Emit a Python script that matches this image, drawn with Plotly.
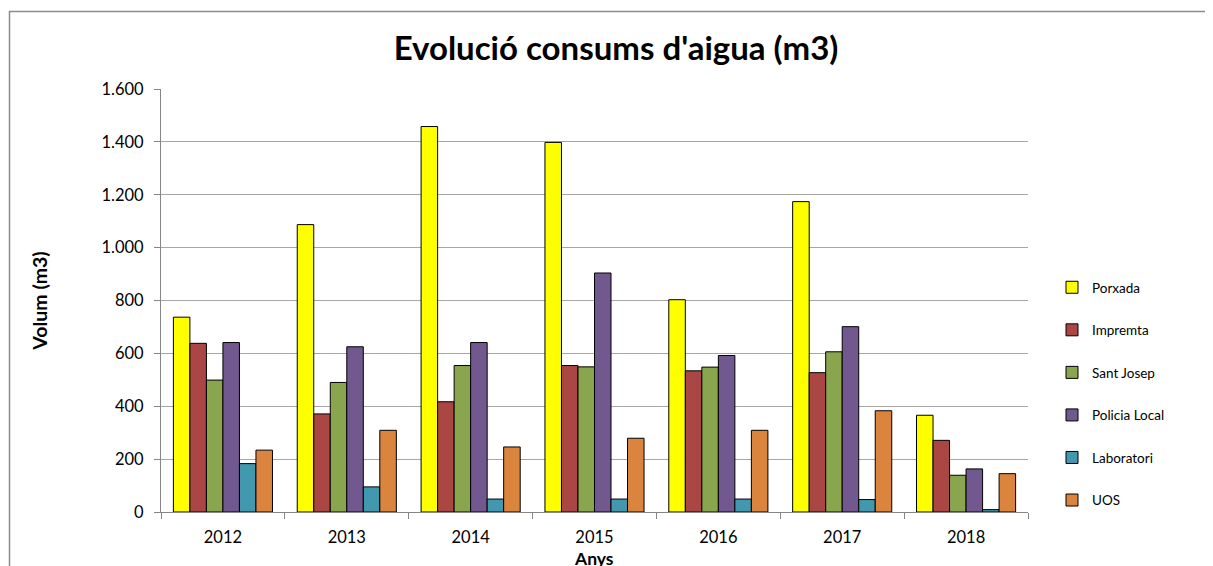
import plotly.graph_objects as go

years = ["2012", "2013", "2014", "2015", "2016", "2017", "2018"]
porxada = [737, 1087, 1458, 1398, 803, 1174, 366]
impremta = [638, 371, 417, 554, 534, 527, 271]
sant_josep = [499, 490, 554, 549, 548, 606, 139]
policia_local = [641, 625, 641, 904, 592, 701, 163]
laboratori = [183, 95, 49, 49, 49, 47, 9]
uos = [234, 309, 246, 279, 309, 383, 145]

series = [
    ("Porxada", porxada, "#FFFF00"),
    ("Impremta", impremta, "#AA4643"),
    ("Sant Josep", sant_josep, "#89A54E"),
    ("Policia Local", policia_local, "#71588F"),
    ("Laboratori", laboratori, "#4198AF"),
    ("UOS", uos, "#DB843D"),
]

FONT = "Lato"

fig = go.Figure()
for i, (name, vals, col) in enumerate(series):
    fig.add_trace(go.Bar(
        x=years, y=vals, name=name, legendgroup=f"g{i}",
        marker=dict(color=col, line=dict(color="#000000", width=1)),
    ))

# page has an 8px body margin: screen coords = figure coords + 8
OFF = 8
W, H = 1213 - OFF, 566 - OFF
L, T = 161 - OFF, 89 - OFF
R = W - (1028 - OFF)
B = H - (512 - OFF)
pw, ph = W - L - R, H - T - B

def px_x(sx):
    return (sx - OFF - L) / pw

def px_y(sy):
    return (H - B - (sy - OFF)) / ph

fig.update_layout(
    width=W, height=H,
    margin=dict(l=L, r=R, t=T, b=B, autoexpand=False),
    paper_bgcolor="white", plot_bgcolor="white",
    separators=",.",
    barmode="group", bargap=0.2, bargroupgap=0,
    font=dict(family=FONT, size=16, color="#000000"),
    title=dict(text="<b>Evolució consums d'aigua (m3)</b>", x=(616 - OFF) / W, xanchor="center",
               y=1 - (48 - OFF) / H, yanchor="middle",
               font=dict(family=FONT, size=33, color="#000000")),
    legend=dict(x=px_x(1052), xanchor="left", y=px_y(272), yanchor="top",
                font=dict(family=FONT, size=13.5, color="#000000"),
                tracegroupgap=22, itemwidth=30, traceorder="grouped",
                bgcolor="rgba(0,0,0,0)"),
    xaxis=dict(type="category", tickson="boundaries", ticks="outside", ticklen=6,
               tickcolor="#868686", showline=True, linecolor="#868686", linewidth=1,
               tickfont=dict(family=FONT, size=16.5), ticklabelstandoff=10, automargin=False),
    yaxis=dict(range=[0, 1600], dtick=200, tickformat=",d", ticks="outside", ticklen=6,
               tickcolor="#868686", showline=True, linecolor="#868686", linewidth=1,
               showgrid=True, gridcolor="#A6A6A6", gridwidth=1, zeroline=False,
               tickfont=dict(family=FONT, size=16.5), ticklabelstandoff=7, automargin=False,
               title=dict(text="<b>Volum (m3)</b>", font=dict(family=FONT, size=19.5), standoff=48)),
    annotations=[dict(text="<b>Anys</b>", xref="paper", yref="paper", x=px_x(594), y=px_y(558),
                      xanchor="center", yanchor="middle", showarrow=False,
                      font=dict(family=FONT, size=17.5, color="#000000"))],
    shapes=[dict(type="rect", xref="paper", yref="paper",
                 x0=px_x(9.5), x1=px_x(1240), y0=px_y(620), y1=px_y(11.5),
                 line=dict(color="#8C8C8C", width=1.5), fillcolor="rgba(0,0,0,0)", layer="below")],
)

fig.write_html("out.html")
